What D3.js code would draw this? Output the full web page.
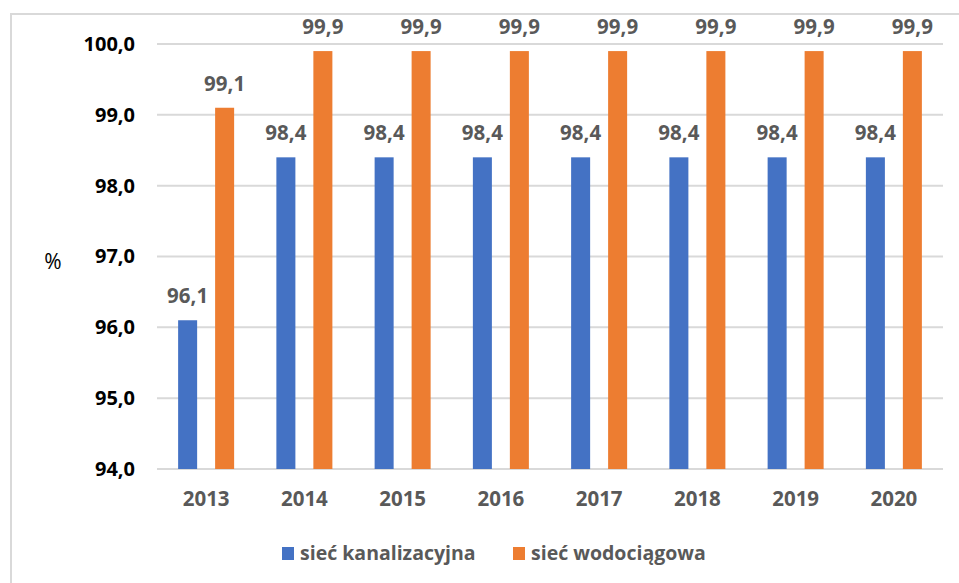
<!DOCTYPE html>
<html><head><meta charset="utf-8">
<script src="https://cdn.jsdelivr.net/npm/d3@7"></script>
<style>body{margin:0;background:#fff;} svg{display:block;}</style>
</head><body>
<svg id="c" width="959" height="583"></svg>
<script>
const years = ["2013","2014","2015","2016","2017","2018","2019","2020"];
const kanalizacyjna = [96.1,98.4,98.4,98.4,98.4,98.4,98.4,98.4];
const wodociagowa = [99.1,99.9,99.9,99.9,99.9,99.9,99.9,99.9];
const seriesNames = ["sieć kanalizacyjna","sieć wodociągowa"];
const colors = ["#4472C4","#ED7D31"];
const yTicks = [94,95,96,97,98,99,100];

(function(){
const svg = d3.select("#c");
const font = "'Open Sans', sans-serif";
svg.append("rect").attr("x",11).attr("y",14).attr("width",960).attr("height",600)
  .attr("fill","none").attr("stroke","#d9d9d9").attr("stroke-width",2);

const pl=157, pr=943, pt=44, pb=469;
const x0 = d3.scaleBand().domain(years).range([pl,pr]);
const x1 = d3.scaleBand().domain([0,1]).range([0,x0.bandwidth()]).paddingInner(0.486).paddingOuter(0.571);
const y = d3.scaleLinear().domain([94,100]).range([pb,pt]);

svg.append("g").selectAll("line").data(yTicks).join("line")
  .attr("x1",pl).attr("x2",pr).attr("y1",d=>y(d)).attr("y2",d=>y(d))
  .attr("stroke","#d9d9d9").attr("stroke-width",2);

const yAxis = d3.axisLeft(y).tickValues(yTicks).tickSize(0).tickPadding(22)
  .tickFormat(d=>d3.format(".1f")(d).replace(".",","));
const ya = svg.append("g").attr("transform",`translate(${pl},0)`).call(yAxis);
ya.select(".domain").remove();
ya.selectAll("text").attr("font-family",font).attr("font-weight","bold").attr("font-size",20).attr("fill","#000");

const xAxis = d3.axisBottom(x0).tickSize(0).tickPadding(22);
const xa = svg.append("g").attr("transform",`translate(0,${pb})`).call(xAxis);
xa.select(".domain").remove();
xa.selectAll("text").attr("font-family",font).attr("font-weight","bold").attr("font-size",20.5).attr("fill","#595959");

const series=[kanalizacyjna,wodociagowa];
series.forEach((vals,si)=>{
  const g = svg.append("g");
  g.selectAll("rect").data(vals).join("rect")
    .attr("x",(d,i)=>x0(years[i])+x1(si)).attr("width",x1.bandwidth())
    .attr("y",d=>y(d)).attr("height",d=>pb-y(d)).attr("fill",colors[si]);
  g.selectAll("text").data(vals).join("text")
    .attr("x",(d,i)=>x0(years[i])+x1(si)+x1.bandwidth()/2).attr("y",d=>y(d)-17)
    .attr("text-anchor","middle").attr("font-family",font).attr("font-weight","bold")
    .attr("font-size",20.5).attr("fill","#595959")
    .text(d=>d3.format(".1f")(d).replace(".",","));
});

svg.append("text").attr("x",53).attr("y",269).attr("text-anchor","middle")
  .attr("font-family",font).attr("font-size",21).attr("fill","#000").text("%");

const legX=[282,513];
seriesNames.forEach((n,i)=>{
  svg.append("rect").attr("x",legX[i]).attr("y",547).attr("width",12).attr("height",13).attr("fill",colors[i]);
  svg.append("text").attr("x",legX[i]+18).attr("y",560).attr("font-family",font).attr("font-weight","bold")
    .attr("font-size",19.5).attr("fill","#595959").text(n);
});
})();
</script>
</body></html>
